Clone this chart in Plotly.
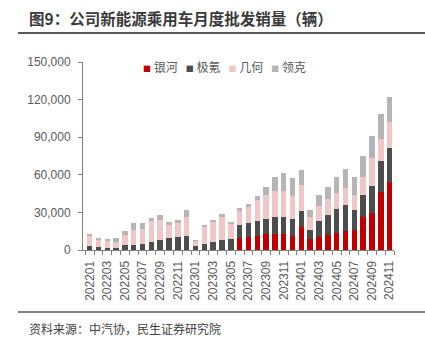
import plotly.graph_objects as go

months = ["202201", "202202", "202203", "202204", "202205", "202206", "202207", "202208",
          "202209", "202210", "202211", "202212", "202301", "202302", "202303", "202304",
          "202305", "202306", "202307", "202308", "202309", "202310", "202311", "202312",
          "202401", "202402", "202403", "202404", "202405", "202406", "202407", "202408",
          "202409", "202410", "202411"]

series_names = ["银河", "极氪", "几何", "领克"]

yinhe = [0, 0, 0, 0, 0, 0, 0, 0, 0, 0, 0, 0, 0, 0, 0, 0, 0,
         9600, 10100, 11000, 12900, 13100, 13100, 11500, 18700, 8900, 10100, 12000,
         13800, 15400, 16200, 26100, 29600, 46100, 54600]
jike = [3200, 2400, 1600, 1600, 4000, 4000, 4800, 6700, 8000, 9600, 10500, 11000,
        2800, 5000, 6400, 7900, 8500, 10500, 11600, 12300, 12000, 13300, 13300, 13500,
        12700, 7300, 12800, 16300, 18700, 20300, 15800, 18100, 21500, 25000, 26900]
jihe = [7700, 5900, 5600, 4800, 7700, 12000, 12000, 16300, 16300, 10400, 11100, 15400,
        4400, 13600, 15600, 18200, 11900, 11300, 12400, 16800, 18600, 20700, 20300, 17900,
        20100, 10100, 12500, 12500, 13000, 14100, 11700, 14100, 22400, 17400, 20800]
lingke = [1900, 1300, 1600, 3200, 3500, 5600, 4500, 2700, 3700, 2000, 2700, 5600,
          500, 1500, 2200, 2600, 1900, 2200, 2400, 3300, 6700, 11000, 14800, 14200,
          12400, 6000, 8300, 9300, 12600, 14900, 14900, 16800, 17400, 19900, 19700]

colors = ["#C00000", "#4D4D4D", "#F0C6C6", "#B5B5B5"]
y_ticks = [0, 30000, 60000, 90000, 120000, 150000]
tick_text = [m if i % 2 == 0 else "" for i, m in enumerate(months)]

title_text = "图9：公司新能源乘用车月度批发销量（辆）"
source_text = "资料来源：中汽协，民生证券研究院"

CJK = "Noto Sans CJK SC"
NUM = "Liberation Sans, Arial, sans-serif"

fig = go.Figure()
for name, vals, col in zip(series_names, [yinhe, jike, jihe, lingke], colors):
    fig.add_bar(x=months, y=vals, name=name, marker_color=col, marker_line_width=0)

legend_html = "\u00a0\u00a0\u00a0".join(
    f"<span style='color:{c};font-size:8px'>■</span>\u00a0{n}" for n, c in zip(series_names, colors)
)

fig.update_layout(
    width=425, height=350,
    margin=dict(l=83, r=31, t=62, b=100),
    barmode="stack", bargap=0.38,
    showlegend=False,
    plot_bgcolor="white", paper_bgcolor="white",
    xaxis=dict(type="category", range=[-0.75, 34.5], tickmode="array",
               tickvals=months, ticktext=tick_text, tickangle=-90,
               tickson="boundaries", ticks="outside", ticklen=4, tickcolor="#808080",
               showline=True, linecolor="#808080", linewidth=1, showgrid=False,
               ticklabelstandoff=5,
               tickfont=dict(size=12, color="#595959", family=NUM)),
    yaxis=dict(range=[0, 150000], tickmode="array", tickvals=y_ticks, tickformat=",",
               ticks="outside", ticklen=4, tickcolor="#808080", showline=True,
               linecolor="#808080", linewidth=1, showgrid=False, zeroline=False,
               ticklabelstandoff=5,
               tickfont=dict(size=12, color="#595959", family=NUM)),
    annotations=[
        dict(text=f"<b>{title_text}</b>", xref="paper", yref="paper", x=-0.18, y=1.234,
             xanchor="left", yanchor="middle", showarrow=False,
             font=dict(size=15.5, color="#3A3A3A", family=CJK)),
        dict(text=source_text, xref="paper", yref="paper", x=-0.18, y=-0.415,
             xanchor="left", yanchor="middle", showarrow=False,
             font=dict(size=12, color="#404040", family=CJK)),
        dict(text=legend_html, xref="paper", yref="paper", x=0.4534, y=0.976,
             xanchor="center", yanchor="middle", showarrow=False,
             font=dict(size=12, color="#595959", family=CJK)),
    ],
    shapes=[
        dict(type="line", xref="paper", yref="paper", x0=-0.209, x1=1.0997, y0=1.154, y1=1.154,
             line=dict(color="#595959", width=2)),
        dict(type="line", xref="paper", yref="paper", x0=-0.209, x1=1.0997, y0=-0.33, y1=-0.33,
             line=dict(color="#595959", width=1.5)),
    ],
)

fig.write_html("out.html")
